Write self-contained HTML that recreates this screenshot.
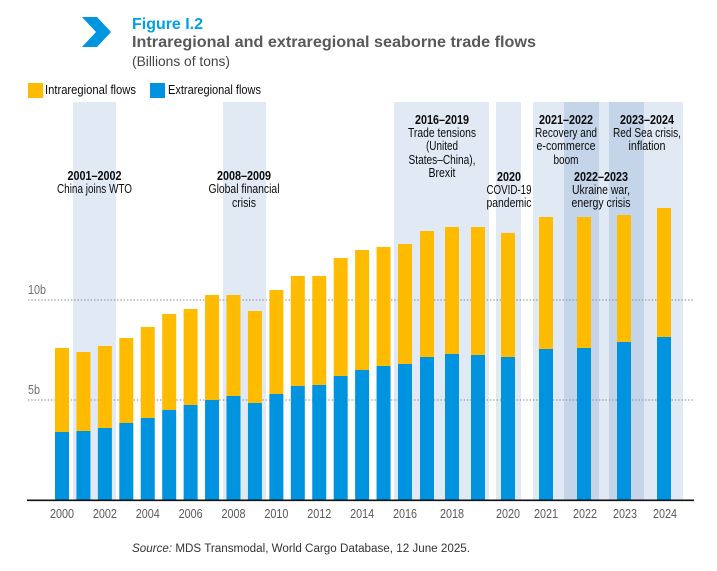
<!DOCTYPE html>
<html lang="en">
<head>
<meta charset="utf-8">
<title>Intraregional and extraregional seaborne trade flows</title>
<style>
html,body{margin:0;padding:0;background:#fff;}
body{width:717px;height:571px;overflow:hidden;}
svg{display:block;font-family:"Liberation Sans",sans-serif;}
.band{mix-blend-mode:multiply;fill:#e0e9f4;}
.ann{font-size:12.8px;fill:#0c0c0c;text-anchor:middle;}
.ann-b{font-size:12.8px;font-weight:bold;fill:#0c0c0c;text-anchor:middle;}
</style>
</head>
<body>
<svg id="chart" width="717" height="571" viewBox="0 0 717 571" xmlns="http://www.w3.org/2000/svg">
  <polygon points="82,17 97,17 111,32 97,47 82,47 96,32" fill="#0095e0"/>
  <text x="132" y="29" font-size="16" font-weight="bold" fill="#00a0e4" textLength="71" lengthAdjust="spacingAndGlyphs">Figure I.2</text>
  <text x="132" y="47" font-size="15.5" font-weight="bold" fill="#58595b" textLength="404" lengthAdjust="spacingAndGlyphs">Intraregional and extraregional seaborne trade flows</text>
  <text x="132" y="66" font-size="14" fill="#444" textLength="98" lengthAdjust="spacingAndGlyphs">(Billions of tons)</text>

  <g>
    <rect x="28" y="83" width="15" height="15" fill="#ffbb00"/>
    <text x="45" y="94" font-size="12.8" fill="#0c0c0c" textLength="91" lengthAdjust="spacingAndGlyphs">Intraregional flows</text>
    <rect x="150" y="83" width="15" height="15" fill="#0094e0"/>
    <text x="168" y="94" font-size="12.8" fill="#0c0c0c" textLength="93" lengthAdjust="spacingAndGlyphs">Extraregional flows</text>
  </g>

  <g>
    <rect class="band" x="73" y="102" width="43" height="398"/>
    <rect class="band" x="223" y="102" width="43" height="398"/>
    <rect class="band" x="394" y="102" width="95" height="398"/>
    <rect class="band" x="496" y="102" width="25" height="398"/>
    <rect class="band" x="533" y="102" width="66" height="398"/>
    <rect class="band" x="564" y="102" width="80" height="398"/>
    <rect class="band" x="609" y="102" width="74" height="398"/>
  </g>

  <g id="grid"></g>
  <g id="bars"></g>
  <g id="yticks"></g>
  <g id="xticks"></g>
  <line x1="27" x2="694" y1="500.3" y2="500.3" stroke="#111" stroke-width="1.6"/>

  <g>
    <text class="ann-b" x="94.5" y="180" textLength="54" lengthAdjust="spacingAndGlyphs">2001–2002</text>
    <text class="ann" x="94.5" y="193" textLength="75" lengthAdjust="spacingAndGlyphs">China joins WTO</text>
  </g>
  <g>
    <text class="ann-b" x="244" y="180" textLength="54" lengthAdjust="spacingAndGlyphs">2008–2009</text>
    <text class="ann" x="244" y="193" textLength="71" lengthAdjust="spacingAndGlyphs">Global financial</text>
    <text class="ann" x="244" y="207" textLength="24" lengthAdjust="spacingAndGlyphs">crisis</text>
  </g>
  <g>
    <text class="ann-b" x="442" y="124" textLength="54" lengthAdjust="spacingAndGlyphs">2016–2019</text>
    <text class="ann" x="442" y="137" textLength="68" lengthAdjust="spacingAndGlyphs">Trade tensions</text>
    <text class="ann" x="442" y="150" textLength="32" lengthAdjust="spacingAndGlyphs">(United</text>
    <text class="ann" x="442" y="164" textLength="67" lengthAdjust="spacingAndGlyphs">States–China),</text>
    <text class="ann" x="442" y="177" textLength="27" lengthAdjust="spacingAndGlyphs">Brexit</text>
  </g>
  <g>
    <text class="ann-b" x="509" y="181" textLength="24" lengthAdjust="spacingAndGlyphs">2020</text>
    <text class="ann" x="509" y="194" textLength="45" lengthAdjust="spacingAndGlyphs">COVID-19</text>
    <text class="ann" x="509" y="207" textLength="45" lengthAdjust="spacingAndGlyphs">pandemic</text>
  </g>
  <g>
    <text class="ann-b" x="566" y="124" textLength="54" lengthAdjust="spacingAndGlyphs">2021–2022</text>
    <text class="ann" x="566" y="137" textLength="62" lengthAdjust="spacingAndGlyphs">Recovery and</text>
    <text class="ann" x="566" y="150" textLength="59" lengthAdjust="spacingAndGlyphs">e-commerce</text>
    <text class="ann" x="566" y="164" textLength="25" lengthAdjust="spacingAndGlyphs">boom</text>
  </g>
  <g>
    <text class="ann-b" x="601" y="181" textLength="54" lengthAdjust="spacingAndGlyphs">2022–2023</text>
    <text class="ann" x="601" y="194" textLength="58" lengthAdjust="spacingAndGlyphs">Ukraine war,</text>
    <text class="ann" x="601" y="207" textLength="59" lengthAdjust="spacingAndGlyphs">energy crisis</text>
  </g>
  <g>
    <text class="ann-b" x="647" y="124" textLength="54" lengthAdjust="spacingAndGlyphs">2023–2024</text>
    <text class="ann" x="647" y="137" textLength="68" lengthAdjust="spacingAndGlyphs">Red Sea crisis,</text>
    <text class="ann" x="647" y="150" textLength="37" lengthAdjust="spacingAndGlyphs">inflation</text>
  </g>

  <text x="132" y="552" font-size="11.5" fill="#333" textLength="338" lengthAdjust="spacingAndGlyphs"><tspan font-style="italic">Source:</tspan> MDS Transmodal, World Cargo Database, 12 June 2025.</text>
</svg>
<script>
const years = [2000,2001,2002,2003,2004,2005,2006,2007,2008,2009,2010,2011,2012,2013,2014,2015,2016,2017,2018,2019,2020,2021,2022,2023,2024];
const extraregional = [3.4,3.45,3.6,3.85,4.1,4.5,4.75,5.0,5.2,4.85,5.3,5.7,5.75,6.2,6.5,6.7,6.8,7.15,7.3,7.25,7.15,7.55,7.6,7.9,8.15];
const intraregional = [4.2,3.95,4.1,4.25,4.55,4.8,4.8,5.25,5.05,4.6,5.2,5.5,5.45,5.9,6.0,5.95,6.0,6.3,6.35,6.4,6.2,6.6,6.55,6.35,6.45];
const xTickLabels = [2000,2002,2004,2006,2008,2010,2012,2014,2016,2018,2020,2021,2022,2023,2024];
const yTickValues = [5,10];
const yTickLabels = ['5b','10b'];

const NS = 'http://www.w3.org/2000/svg';
const BASE_Y = 500, PX_PER_UNIT = 20, BAR_W = 14;
const yScale = v => BASE_Y - v * PX_PER_UNIT;
function xScale(year){
  // The published chart has an uneven time axis: regular to 2016, then widening steps.
  const domain = [2000,2016,2017,2018,2019,2020,2021,2022,2023,2024];
  const range = [62,405,427,452,478,508,546,584,624,664];
  for (let i = 0; i < domain.length - 1; i++) {
    if (year <= domain[i + 1]) {
      const t = (year - domain[i]) / (domain[i + 1] - domain[i]);
      return range[i] + t * (range[i + 1] - range[i]);
    }
  }
  return range[range.length - 1];
}
function make(tag, attrs, parent){
  const el = document.createElementNS(NS, tag);
  for (const k in attrs) el.setAttribute(k, attrs[k]);
  parent.appendChild(el);
  return el;
}

const gridG = document.getElementById('grid');
const yG = document.getElementById('yticks');
yTickValues.forEach((v, i) => {
  const line = make('line', {x1:28, x2:693, y1:yScale(v), y2:yScale(v), stroke:'#9a9a9a', 'stroke-width':1.2, 'stroke-dasharray':'1.4 1.9'}, gridG);
  
  
  const label = make('text', {x:28, y:yScale(v) - 6, 'font-size':12.8, fill:'#6d6e71', textLength: v === 10 ? 18 : 12, lengthAdjust:'spacingAndGlyphs'}, yG);
  label.textContent = yTickLabels[i];
  
  
});

const barsG = document.getElementById('bars');
years.forEach((year, i) => {
  const cx = xScale(year);
  const extraTop = yScale(extraregional[i]);
  const totalTop = yScale(extraregional[i] + intraregional[i]);
  const top = make('rect', {x:cx - BAR_W / 2, y:totalTop, width:BAR_W, height:extraTop - totalTop, fill:'#ffbb00'}, barsG);
  
  
  const bottom = make('rect', {x:cx - BAR_W / 2, y:extraTop, width:BAR_W, height:BASE_Y - extraTop, fill:'#0094e0'}, barsG);
  
  
});

const xG = document.getElementById('xticks');
xTickLabels.forEach(year => {
  const label = make('text', {x:xScale(year) + (year > 2021 ? 1 : 0), y:518, 'font-size':12.8, fill:'#58595b', 'text-anchor':'middle', textLength:24, lengthAdjust:'spacingAndGlyphs'}, xG);
  label.textContent = year;
  
  
});
</script>
</body>
</html>
